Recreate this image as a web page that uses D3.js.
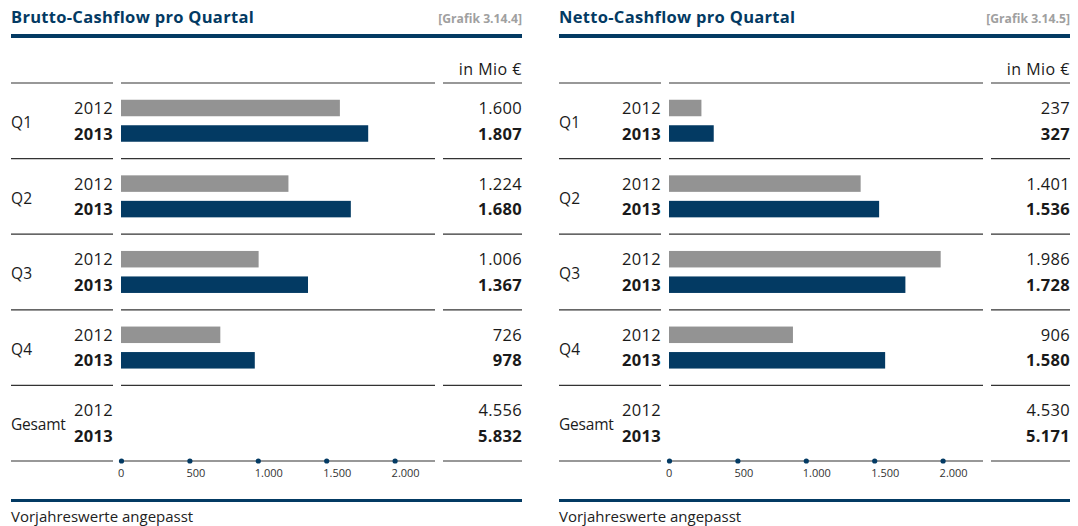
<!DOCTYPE html>
<html>
<head>
<meta charset="utf-8">
<script src="https://cdn.jsdelivr.net/npm/d3@7"></script>
<style>
  html, body { margin: 0; padding: 0; background: #fff; }
  svg { display: block; font-family: "Open Sans", "Noto Sans", sans-serif; }
</style>
</head>
<body>
<svg id="chart" width="1078" height="526"></svg>
<script>
// ---- data ----
const quarters = ["Q1", "Q2", "Q3", "Q4"];
const years = ["2012", "2013"];
const totalLabel = "Gesamt";
const tickValues = [0, 500, 1000, 1500, 2000];

const bruttoTitle = "Brutto-Cashflow pro Quartal";
const bruttoRef = "[Grafik 3.14.4]";
const brutto2012 = [1600, 1224, 1006, 726];
const brutto2013 = [1807, 1680, 1367, 978];
const bruttoTotal = [4556, 5832];

const nettoTitle = "Netto-Cashflow pro Quartal";
const nettoRef = "[Grafik 3.14.5]";
const netto2012 = [237, 1401, 1986, 906];
const netto2013 = [327, 1536, 1728, 1580];
const nettoTotal = [4530, 5171];

const unitLabel = "in Mio €";
const footnote = "Vorjahreswerte angepasst";

// ---- style ----
const BLUE = "#033a63";
const GRAY = "#939393";
const TEXT = "#1a1a1a";

const de = d3.formatLocale({decimal: ",", thousands: ".", grouping: [3], currency: ["", " €"]});
const fmt = de.format(",d");

const svg = d3.select("#chart");

function drawPanel(ox, title, ref, v2012, v2013, totals) {
  const g = svg.append("g").attr("transform", `translate(${ox},0)`);
  const left = 11, right = 522;

  // title
  g.append("text").attr("x", left).attr("y", 23)
    .attr("font-size", 16.5).attr("font-weight", 700).attr("letter-spacing", 0.3)
    .attr("fill", BLUE).text(title);
  g.append("text").attr("x", right).attr("y", 23).attr("text-anchor", "end")
    .attr("font-size", 12.2).attr("font-weight", 700).attr("fill", "#a0a0a0").text(ref);
  g.append("rect").attr("x", left).attr("y", 34).attr("width", right - left).attr("height", 4).attr("fill", BLUE);

  g.append("text").attr("x", right).attr("y", 75).attr("text-anchor", "end")
    .attr("font-size", 16).attr("letter-spacing", 0.5).attr("fill", TEXT).text(unitLabel);

  const rows = quarters.concat([totalLabel]);
  const y = d3.scaleBand().domain(rows).range([83, 461]).paddingInner(0).paddingOuter(0);
  const yy = d3.scalePoint().domain(years).range([25, 50.5]);
  const x = d3.scaleLinear().domain([0, 2000]).range([121, 121 + 273.6]);

  // separator lines (top of each row + axis line)
  const lineYs = rows.map(r => y(r)).concat([461]);
  const segs = [[left, 113], [121, 435], [443, right]];
  lineYs.forEach(ly => {
    segs.forEach(s => {
      g.append("line").attr("x1", s[0]).attr("x2", s[1]).attr("y1", ly).attr("y2", ly)
        .attr("stroke", "#333").attr("stroke-width", 1.2);
    });
  });

  const data = quarters.map((q, i) => ({q, vals: [v2012[i], v2013[i]]}));

  rows.forEach((r, ri) => {
    const row = g.append("g").attr("transform", `translate(0,${y(r)})`);
    const vals = ri < quarters.length ? data[ri].vals : totals;
    row.append("text").attr("x", left).attr("y", 45).attr("font-size", 15.5)
      .attr("letter-spacing", ri < quarters.length ? 0.3 : -0.2).attr("fill", TEXT).text(r);
    years.forEach((yr, k) => {
      const bold = k === 1;
      row.append("text").attr("x", 113).attr("y", yy(yr) + 6).attr("text-anchor", "end")
        .attr("font-size", 16.5).attr("letter-spacing", 0.3)
        .attr("font-weight", bold ? 700 : 400).attr("fill", TEXT).text(yr);
      row.append("text").attr("x", right).attr("y", yy(yr) + 6).attr("text-anchor", "end")
        .attr("font-size", 16.5).attr("letter-spacing", 0.3)
        .attr("font-weight", bold ? 700 : 400).attr("fill", TEXT).text(fmt(vals[k]));
      if (ri < quarters.length) {
        row.append("rect").attr("x", x(0)).attr("y", yy(yr) - 8.25)
          .attr("width", x(vals[k]) - x(0)).attr("height", 16.5)
          .attr("fill", k === 0 ? GRAY : BLUE);
      }
    });
  });

  // axis
  const axis = d3.axisBottom(x).tickValues(tickValues).tickSize(0).tickPadding(8)
    .tickFormat(d => fmt(d));
  const ag = g.append("g").attr("transform", "translate(0,461)").call(axis);
  ag.select(".domain").remove();
  ag.selectAll("text").attr("font-size", 11).attr("fill", "#333")
    .attr("font-family", "\"Open Sans\", sans-serif")
    .attr("text-anchor", "start").attr("dx", -3.5);
  ag.selectAll(".tick").append("circle").attr("r", 2.6).attr("fill", BLUE);

  // footer
  g.append("rect").attr("x", left).attr("y", 499).attr("width", right - left).attr("height", 3).attr("fill", BLUE);
  g.append("text").attr("x", left).attr("y", 522).attr("font-size", 15).attr("fill", "#222").text(footnote);
}

drawPanel(0, bruttoTitle, bruttoRef, brutto2012, brutto2013, bruttoTotal);
drawPanel(548, nettoTitle, nettoRef, netto2012, netto2013, nettoTotal);
</script>
</body>
</html>
